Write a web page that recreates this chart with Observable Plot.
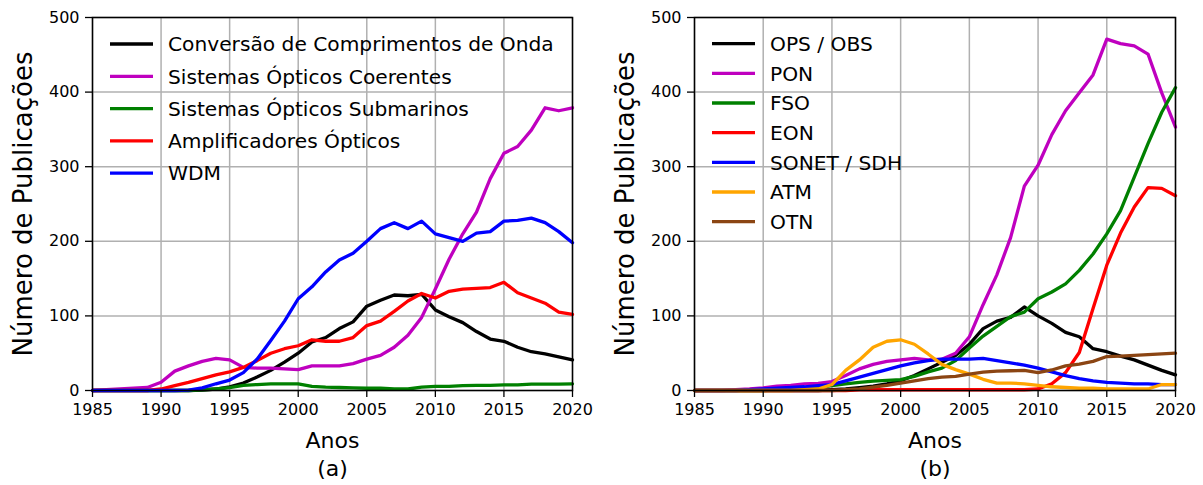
<!DOCTYPE html>
<html>
<head>
<meta charset="utf-8">
<script src="https://cdn.jsdelivr.net/npm/d3@7"></script>
<script src="https://cdn.jsdelivr.net/npm/@observablehq/plot@0.6"></script>
<style>
  html, body { margin: 0; padding: 0; background: #fff; }
  #wrap { display: flex; flex-direction: row; width: 1203px; height: 485px; }
  svg { font-family: "DejaVu Sans", sans-serif; }
</style>
</head>
<body>
<div id="wrap"></div>
<script>
const years = [1985,1986,1987,1988,1989,1990,1991,1992,1993,1994,1995,1996,1997,1998,1999,2000,2001,2002,2003,2004,2005,2006,2007,2008,2009,2010,2011,2012,2013,2014,2015,2016,2017,2018,2019,2020];
const xTicks = [1985,1990,1995,2000,2005,2010,2015,2020];
const yTicks = [0,100,200,300,400,500];

// Panel (a)
const namesA = ["Conversão de Comprimentos de Onda","Sistemas Ópticos Coerentes","Sistemas Ópticos Submarinos","Amplificadores Ópticos","WDM"];
const conversao = [0,0,0,0,0,0,0,0,0.5,2,5,10,18,27,38,50,65,71,83,92,113,121,128,127,129,108,99,91,79,69,66,58,52,49,45,41];
const coerentes = [0,1,2,3,4,11,26,33,39,43,41,31,30,30,29,28,33,33,33,36,42,47,58,74,98,136,176,210,239,284,318,327,349,379,375,379];
const submarinos = [0,0,0,0,0,0,0,0,1,2,4,7,8,9,9,9,5.5,4.5,4,3.5,3,3,2,2,4.5,5.5,5.5,6.5,7,7,7.5,7.5,8.5,8.5,8.5,9];
const amplificadores = [0,0,0,0,0,2,6.5,11,16,21,25,31,40,50,56,60,68,66,66,71,87,93,106,120,130,124,133,136,137,138,145,131,124,117,105,102];
const wdm = [0,0,0,0,0,0,0,0.5,3.5,9,14,24,42,67,93,123,139,159,175,184,200,217,225,217,227,210,205,200,211,213,227,228,231,225,213,198];
const seriesA = [conversao, coerentes, submarinos, amplificadores, wdm];
const colorsA = ["#000000","#bf00bf","#008000","#ff0000","#0000ff"];

// Panel (b)
const namesB = ["OPS / OBS","PON","FSO","EON","SONET / SDH","ATM","OTN"];
const ops = [0,0,0,0,0,0,0,0,0,0,1,2,4,6,9,13,20,29,38,47,62,83,93,98,112,100,90,78,72,56,52,46,41,34,27,21];
const pon = [0,0,0,1,2,3.5,6,7,9,9.5,12,20,29,35,39,41,43,41,42,50,72,115,155,205,274,302,343,375,399,423,471,465,462,451,399,353];
const fso = [0,0,0,0,0,0,1,2,3,4,6.5,9,11,12.5,13.5,14.5,19,25,30,40,57,73,86,99,105,123,132,143,161,183,210,241,286,331,373,406];
const eon = [0,0,0,0,0,0,0,0,0,0,0,0,1,1,1,1,1,1,1,1,1,1,1,1,1,2,9,24,51,110,168,211,246,272,271,261];
const sonet = [0,0,0,0,1,2,3,4,5,6.5,8,13,18,23,28,33,37,40,42,42,42,43,40,37,34,30,25,20,16,13,11,10,9,9,8,8];
const atm = [0,0,0,0,0,0,0,0,1,2,8,27,41,58,66,68,62,49,35,28,22,15,10,10,9,7,5,4,3,3,2,2,2,2,8,8];
const otn = [0,0,0,0,0,0,0,0,0,0,0,1,2,4.5,7,10,13,16,18,19,22,24.5,26,26.5,27,24,27.5,33,35.5,39,45.5,46,47,48,49,50];
const seriesB = [ops, pon, fso, eon, sonet, atm, otn];
const colorsB = ["#000000","#bf00bf","#008000","#ff0000","#0000ff","#ffa500","#8b4513"];

function legendMark(names, colors, y0, step) {
  return (index, scales, values, dims) => {
    const g = d3.create("svg:g");
    names.forEach((name, i) => {
      const y = y0 + i * step;
      g.append("line")
        .attr("x1", dims.marginLeft + 18).attr("x2", dims.marginLeft + 61)
        .attr("y1", y).attr("y2", y)
        .attr("stroke", colors[i]).attr("stroke-width", 3.3);
      g.append("text")
        .attr("x", dims.marginLeft + 76).attr("y", y).attr("dy", "0.36em")
        .attr("text-anchor", "start")
        .attr("font-size", 20.2).attr("fill", "#000")
        .text(name);
    });
    return g.node();
  };
}

function panel(series, names, colors, tag, width, marginRight, legY0, legStep) {
  const lines = series.map((vals, i) =>
    Plot.line(years.map((yr, j) => ({year: yr, value: vals[j]})), {
      x: "year", y: "value", stroke: colors[i], strokeWidth: 3.3
    })
  );
  return Plot.plot({
    width: width,
    height: 485,
    marginLeft: 92,
    marginRight: marginRight,
    marginTop: 17,
    marginBottom: 95,
    style: {fontFamily: "DejaVu Sans", fontSize: "15px", color: "#000", background: "#fff"},
    x: {domain: [1985, 2020], ticks: xTicks, tickFormat: "d", label: null},
    y: {domain: [0, 500], ticks: yTicks, label: null},
    marks: [
      Plot.gridX(xTicks, {stroke: "#b0b0b0", strokeOpacity: 1, strokeWidth: 1.5}),
      Plot.gridY(yTicks, {stroke: "#b0b0b0", strokeOpacity: 1, strokeWidth: 1.5}),
      ...lines,
      Plot.frame({stroke: "#000", strokeWidth: 1.5}),
      Plot.axisX(xTicks, {tickSize: 7, tickPadding: 6, tickFormat: "d", fontSize: 16, label: null, strokeWidth: 1.3}),
      Plot.axisY(yTicks, {tickSize: 7, tickPadding: 6, fontSize: 16, label: null, strokeWidth: 1.3}),
      Plot.text(["Anos"], {frameAnchor: "bottom", dy: 50, fontSize: 22, lineAnchor: "middle", textAnchor: "middle"}),
      Plot.text([tag], {frameAnchor: "bottom", dy: 78, fontSize: 22, lineAnchor: "middle", textAnchor: "middle"}),
      Plot.text(["Número de Publicações"], {frameAnchor: "left", dx: -69, rotate: -90, fontSize: 26, lineAnchor: "middle", textAnchor: "middle"}),
      legendMark(names, colors, legY0, legStep)
    ]
  });
}

const wrap = document.getElementById("wrap");
wrap.append(panel(seriesA, namesA, colorsA, "(a)", 602, 30, 44, 32.3));
wrap.append(panel(seriesB, namesB, colorsB, "(b)", 601, 28, 43.7, 29.66));
</script>
</body>
</html>
